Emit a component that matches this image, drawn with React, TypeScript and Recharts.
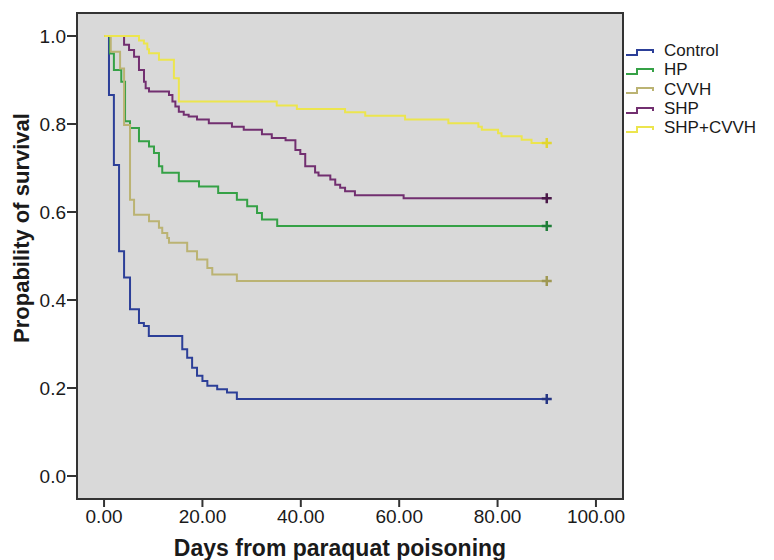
import React from "react";
import { LineChart, Line, XAxis, YAxis, CartesianGrid, ReferenceArea } from "recharts";

if (typeof document !== "undefined") {
  document.body.style.margin = "0";
}

// ---- Data ----
const seriesNames = ["Control", "HP", "CVVH", "SHP", "SHP+CVVH"];
const seriesColors = ["#2c3f98", "#35a146", "#bbb373", "#722f70", "#ece54e"];
const censorColors = ["#253583", "#1f7d38", "#9f9853", "#4a1848", "#e2d630"];

const controlDays = [0, 1.0, 2.0, 3.05, 4.07, 5.28, 7.1, 8.1, 9.1, 15.9, 16.9, 17.9, 18.9, 20.0, 21.0, 23.0, 25.0, 27.0, 90];
const controlSurv = [1, 0.866, 0.707, 0.511, 0.451, 0.379, 0.348, 0.341, 0.318, 0.288, 0.269, 0.246, 0.228, 0.216, 0.205, 0.197, 0.19, 0.175, 0.175];

const hpDays = [0, 1.2, 2.0, 3.5, 4.27, 5.28, 7.1, 9.14, 10.15, 11.16, 11.83, 15.2, 19.3, 23.2, 27.0, 29.1, 31.1, 32.1, 35.2, 90];
const hpSurv = [1, 0.96, 0.923, 0.896, 0.806, 0.791, 0.761, 0.749, 0.734, 0.704, 0.689, 0.67, 0.658, 0.643, 0.628, 0.613, 0.598, 0.583, 0.568, 0.568];

const cvvhDays = [0, 1.36, 3.26, 4.07, 5.28, 6.1, 9.14, 11.16, 11.83, 12.85, 13.2, 16.9, 18.9, 21.0, 22.0, 27.0, 90];
const cvvhSurv = [1, 0.964, 0.926, 0.798, 0.628, 0.594, 0.579, 0.564, 0.552, 0.541, 0.53, 0.511, 0.492, 0.473, 0.458, 0.443, 0.443];

const shpDays = [0, 4.07, 5.08, 6.1, 7.1, 8.12, 8.46, 9.14, 13.2, 13.9, 14.5, 15.2, 16.2, 17.2, 18.9, 21.3, 26.0, 28.4, 32.1, 34.1, 36.9, 38.9, 39.9, 40.9, 42.9, 43.6, 46.0, 47.0, 48.0, 49.0, 51.0, 60.9, 90];
const shpSurv = [1, 0.98, 0.968, 0.953, 0.923, 0.896, 0.881, 0.874, 0.866, 0.851, 0.84, 0.828, 0.821, 0.817, 0.81, 0.802, 0.794, 0.787, 0.777, 0.768, 0.763, 0.741, 0.732, 0.704, 0.69, 0.683, 0.674, 0.662, 0.655, 0.647, 0.638, 0.631, 0.631];

const shpCvvhDays = [0, 7.1, 8.1, 8.8, 9.14, 11.16, 14.2, 15.2, 35.1, 39.2, 49.0, 53.1, 61.2, 70.0, 76.1, 76.8, 80.1, 80.8, 84.9, 86.9, 90];
const shpCvvhSurv = [1, 0.99, 0.983, 0.97, 0.961, 0.946, 0.904, 0.851, 0.842, 0.834, 0.827, 0.819, 0.81, 0.802, 0.794, 0.787, 0.779, 0.772, 0.764, 0.757, 0.757];

const xTicks = [0, 20, 40, 60, 80, 100];
const yTicks = [0, 0.2, 0.4, 0.6, 0.8, 1.0];
const xDomain = [-5.5, 105.5];
const yDomain = [-0.0523, 1.0523];

const xTitle = "Days from paraquat poisoning";
const yTitle = "Propability of survival";

const toRows = (days: number[], surv: number[]) => days.map((d, i) => ({ day: d, p: surv[i] }));

const seriesData = [
  toRows(controlDays, controlSurv),
  toRows(hpDays, hpSurv),
  toRows(cvvhDays, cvvhSurv),
  toRows(shpDays, shpSurv),
  toRows(shpCvvhDays, shpCvvhSurv),
];

const FONT = "'Liberation Sans', Arial, Helvetica, sans-serif";

const makeDot = (n: number, color: string) => (props: any) => {
  const { cx, cy, index } = props;
  if (index !== n - 1 || cx == null || cy == null) return <g key={`d${index}`} />;
  return (
    <path
      key={`d${index}`}
      d={`M${cx - 5},${cy}H${cx + 5}M${cx},${cy - 5}V${cy + 5}`}
      stroke={color}
      strokeWidth={2.5}
      fill="none"
    />
  );
};

export default function App() {
  return (
    <div style={{ position: "relative", width: 774, height: 560, fontFamily: FONT, background: "#fff" }}>
      <LineChart width={774} height={560} margin={{ top: 13, right: 151, bottom: 0, left: 0 }}>
        <CartesianGrid fill="#d9d9d9" horizontal={false} vertical={false} />
        <XAxis
          dataKey="day"
          type="number"
          domain={xDomain}
          ticks={xTicks}
          allowDataOverflow
          tickFormatter={(v: number) => v.toFixed(2)}
          height={61}
          tickSize={8}
          tickMargin={3}
          axisLine={{ stroke: "#333", strokeWidth: 2 }}
          tickLine={{ stroke: "#333", strokeWidth: 2 }}
          tick={{ fill: "#1a1a1a", fontSize: 19, fontFamily: FONT }}
        />
        <YAxis
          type="number"
          domain={yDomain}
          ticks={yTicks}
          allowDataOverflow
          tickFormatter={(v: number) => v.toFixed(1)}
          width={77}
          tickSize={10}
          tickMargin={1}
          axisLine={{ stroke: "#333", strokeWidth: 2 }}
          tickLine={{ stroke: "#333", strokeWidth: 2 }}
          tick={{ fill: "#1a1a1a", fontSize: 19, fontFamily: FONT }}
        />
        <ReferenceArea
          x1={xDomain[0]}
          x2={xDomain[1]}
          y1={yDomain[0]}
          y2={yDomain[1]}
          fill="none"
          fillOpacity={0}
          stroke="#333"
          strokeWidth={2}
        />
        {seriesData.map((rows, i) => (
          <Line
            key={seriesNames[i]}
            data={rows}
            dataKey="p"
            type="stepAfter"
            stroke={seriesColors[i]}
            strokeWidth={2}
            dot={makeDot(rows.length, censorColors[i])}
            activeDot={false}
            isAnimationActive={false}
            name={seriesNames[i]}
          />
        ))}
      </LineChart>

      {/* Legend */}
      <div style={{ position: "absolute", left: 625, top: 41 }}>
        {seriesNames.map((name, i) => (
          <div key={name} style={{ display: "flex", alignItems: "center", height: 19.3 }}>
            <svg width={30} height={12} style={{ display: "block" }}>
              <path d="M1,10 H12 V5 H28 V8" stroke={seriesColors[i]} strokeWidth={2} fill="none" />
            </svg>
            <div
              style={{
                marginLeft: 9,
                fontSize: 17,
                lineHeight: "19.3px",
                height: 19.3,
                color: "#1a1a1a",
                whiteSpace: "nowrap",
              }}
            >
              {name}
            </div>
          </div>
        ))}
      </div>

      {/* Axis titles */}
      <div
        style={{
          position: "absolute",
          left: 0,
          width: 680,
          top: 537,
          textAlign: "center",
          fontWeight: "bold",
          fontSize: 23,
          lineHeight: "23px",
          color: "#1a1a1a",
        }}
      >
        {xTitle}
      </div>
      <div
        style={{
          position: "absolute",
          left: 22 - 160,
          top: 228 - 11,
          width: 320,
          height: 22,
          textAlign: "center",
          fontWeight: "bold",
          fontSize: 22,
          lineHeight: "22px",
          color: "#1a1a1a",
          transform: "rotate(-90deg)",
          whiteSpace: "nowrap",
        }}
      >
        {yTitle}
      </div>
    </div>
  );
}
